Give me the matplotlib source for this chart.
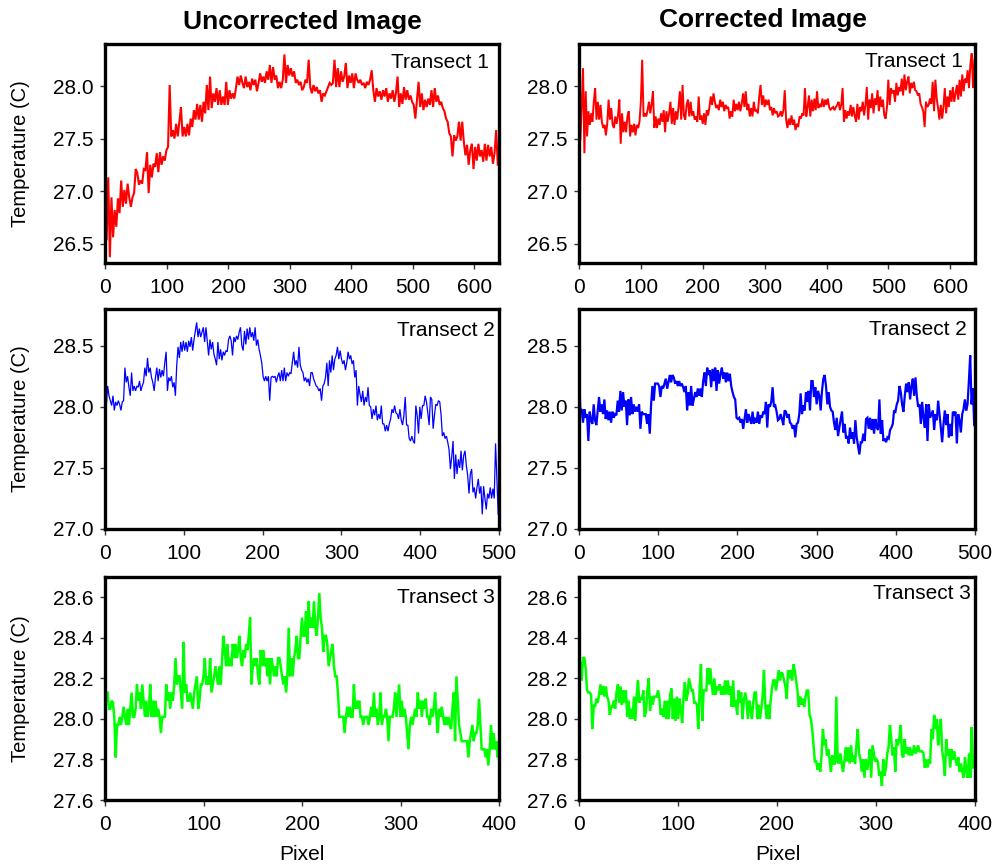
import numpy as np
import matplotlib
matplotlib.use("Agg")
import matplotlib.pyplot as plt

plt.rcParams['font.family'] = ['Liberation Sans', 'DejaVu Sans']

# ---------------- temperature transects (deg C) ----------------
t1_raw = [
    26.74, 26.53, 27.13, 26.37, 26.94, 26.56, 26.82, 26.66, 26.93, 26.79, 27.10, 26.85, 27.01, 26.88,
    27.07, 26.94, 26.85, 26.94, 26.98, 27.21, 27.17, 27.06, 27.10, 27.07, 27.21, 27.20, 27.37, 26.98,
    27.25, 27.13, 27.26, 27.23, 27.36, 27.18, 27.37, 27.25, 27.33, 27.29, 27.39, 27.42, 28.01, 27.52,
    27.58, 27.50, 27.64, 27.52, 27.66, 27.80, 27.52, 27.61, 27.52, 27.64, 27.53, 27.69, 27.61, 27.77,
    27.68, 27.83, 27.68, 27.82, 27.66, 27.85, 27.74, 28.01, 27.77, 28.09, 27.79, 27.93, 27.85, 27.98,
    27.82, 27.96, 27.82, 27.90, 27.82, 28.04, 27.82, 27.96, 27.88, 27.93, 27.88, 27.98, 28.09, 28.01,
    28.10, 28.03, 27.98, 28.09, 27.99, 28.04, 27.96, 28.07, 28.01, 28.06, 27.95, 28.03, 28.12, 28.04,
    28.09, 28.03, 28.14, 28.06, 28.20, 28.03, 28.18, 28.06, 28.10, 27.98, 28.04, 27.98, 28.06, 28.30,
    28.03, 28.20, 28.10, 28.17, 28.09, 28.14, 28.03, 28.06, 28.01, 28.04, 27.96, 27.99,
    28.06, 28.03, 28.25, 27.99, 27.93, 28.01, 27.95, 27.99, 27.93, 27.96, 27.85, 27.93, 27.91, 27.95,
    27.99, 28.03, 28.01, 28.03, 28.25, 27.99, 28.17, 27.99, 28.14, 28.04, 28.09, 28.22, 27.98, 28.10,
    28.03, 28.12, 27.98, 28.12, 28.06, 28.03, 28.06, 28.01, 28.03, 27.98, 28.04, 28.01, 28.06, 28.15,
    27.96, 27.85, 27.98, 27.90, 27.95, 27.87, 27.96, 27.90, 27.98, 27.85, 27.93, 27.88, 27.96, 27.85,
    27.93, 28.09, 27.80, 27.93, 27.83, 27.99, 27.87, 27.96, 27.87, 27.91, 27.85, 27.82, 27.69, 27.87,
    28.04, 27.80, 27.93, 27.77, 27.87, 27.80, 27.88, 27.82, 27.96, 27.80, 27.98, 27.85, 27.91, 27.82,
    27.85, 27.79, 27.76, 27.69, 27.66, 27.55, 27.52, 27.33, 27.53, 27.48, 27.52, 27.66, 27.48, 27.66,
    27.47, 27.34, 27.44, 27.25, 27.39, 27.45, 27.21, 27.42, 27.29, 27.45, 27.33, 27.39, 27.28, 27.45,
    27.29, 27.44, 27.33, 27.42, 27.26, 27.36, 27.58, 27.25,
]

t1_corr = [
    27.77, 27.48, 27.80, 28.17, 27.36, 27.95, 27.52, 27.76, 27.63, 27.74, 27.66, 27.85, 27.98, 27.68,
    27.85, 27.68, 27.82, 27.66, 27.60, 27.63, 27.53, 27.64, 27.87, 27.68, 27.79, 27.63, 27.60, 27.71,
    27.64, 27.72, 27.87, 27.45, 27.74, 27.56, 27.66, 27.56, 27.71, 27.76, 27.52, 27.63, 27.56, 27.64,
    27.53, 27.63, 27.60, 27.66, 27.85, 28.25, 27.71, 27.74, 27.71, 27.77, 27.85, 27.74, 27.83, 27.95,
    27.60, 27.71, 27.60, 27.69, 27.63, 27.74, 27.66, 27.77, 27.56, 27.76, 27.66, 27.74, 27.85, 27.64,
    27.79, 27.63, 27.76, 27.68, 27.80, 27.95, 27.68, 28.01, 27.72, 27.68, 27.82, 27.87, 27.71, 27.85,
    27.72, 27.76, 27.68, 27.71, 27.66, 27.90, 27.68, 27.72, 27.64, 27.74, 27.63, 27.77, 27.72, 27.80,
    27.90, 27.82, 27.93, 27.85, 27.79, 27.82, 27.77, 27.87, 27.80, 27.85, 27.76, 27.82, 27.79, 27.80,
    27.69, 27.76, 27.71, 27.87, 27.76, 27.83, 27.77, 27.85, 27.76, 27.83, 27.93, 27.80, 27.95, 27.77,
    27.83, 27.71, 27.79, 27.71, 27.85, 27.76, 27.77, 27.74, 27.90, 28.01, 27.82, 27.91, 27.80, 27.87,
    27.82, 27.87, 27.77, 27.80, 27.72, 27.79, 27.74, 27.76, 27.71,
    27.72, 27.76, 27.71, 27.77, 27.96, 27.68, 27.60, 27.69, 27.63, 27.72, 27.63, 27.68, 27.58, 27.64,
    27.61, 27.71, 27.69, 27.74, 27.72, 27.98, 27.71, 27.80, 27.91, 27.71, 27.87, 27.76, 27.88, 27.77,
    27.95, 27.79, 27.83, 27.80, 27.88, 27.80, 27.87, 27.82, 27.88, 27.80, 27.77, 27.79, 27.80, 27.77,
    27.80, 27.82, 27.85, 27.77, 27.82, 27.98, 27.66, 27.77, 27.69, 27.76, 27.72, 27.82, 27.71, 27.80,
    27.72, 27.66, 27.83, 27.68, 27.80, 27.76, 27.85, 27.72, 27.82, 27.99, 27.68, 27.87, 27.79, 27.93,
    27.74, 27.88, 27.82, 27.96, 27.76, 27.90, 27.80, 27.87, 27.72, 27.69, 27.80, 28.06, 27.82, 27.98,
    27.93, 27.96, 27.85, 28.03, 27.91, 27.99, 27.95, 28.07, 27.91, 28.11, 27.96, 28.04, 28.09, 27.93,
    28.03, 27.98, 28.04, 27.96, 27.95, 27.91, 27.93, 27.83, 27.80, 27.76, 27.61, 27.85, 27.80, 27.82,
    27.88, 27.83, 28.04, 27.76, 28.06, 27.88, 27.79, 27.68, 27.82, 27.69, 27.80, 27.98, 27.74, 27.90,
    27.80, 27.96, 27.85, 27.99, 27.85, 27.93, 28.01, 27.87, 28.06, 27.90, 28.11, 27.95, 28.07, 28.03,
    28.15, 27.98, 28.20, 28.31, 27.98, 28.25,
]

t2_raw = [
    28.20, 28.01, 28.17, 28.09, 28.05, 28.01, 28.09, 27.97, 28.04, 28.01, 28.05, 28.02, 27.97, 28.04,
    28.05, 28.32, 28.20, 28.25, 28.16, 28.09, 28.28, 28.13, 28.17, 28.13, 28.17, 28.16, 28.21, 28.13,
    28.17, 28.20, 28.32, 28.25, 28.40, 28.28, 28.32, 28.24, 28.20, 28.13, 28.24, 28.32, 28.21, 28.31,
    28.24, 28.30, 28.25, 28.36, 28.45, 28.13, 28.24, 28.21, 28.25, 28.16, 28.20, 28.09, 28.34, 28.49,
    28.40, 28.53, 28.45, 28.54, 28.46, 28.53, 28.45, 28.54, 28.49, 28.57, 28.46, 28.55, 28.62, 28.69,
    28.57, 28.64, 28.57, 28.61, 28.65, 28.53, 28.65, 28.53, 28.42, 28.55, 28.47, 28.53, 28.43, 28.39,
    28.34, 28.53, 28.39, 28.47, 28.38, 28.45, 28.42, 28.46, 28.45, 28.55, 28.58, 28.54, 28.42, 28.57,
    28.53, 28.58, 28.55, 28.61, 28.65, 28.50, 28.46, 28.62, 28.51, 28.64, 28.55, 28.65, 28.57, 28.61,
    28.54, 28.65, 28.50, 28.55, 28.47, 28.42, 28.36, 28.25, 28.21, 28.25, 28.21, 28.25, 28.05, 28.24,
    28.25, 28.24, 28.25, 28.20, 28.25, 28.28, 28.21, 28.30, 28.21, 28.32, 28.21, 28.28, 28.25, 28.28,
    28.27, 28.36, 28.45, 28.34, 28.38, 28.32, 28.49, 28.34, 28.30, 28.28, 28.21,
    28.24, 28.20, 28.23, 28.17, 28.28, 28.28, 28.23, 28.20, 28.17, 28.16, 28.13, 28.15, 28.05, 28.17,
    28.19, 28.24, 28.36, 28.17, 28.38, 28.28, 28.42, 28.30, 28.39, 28.42, 28.49, 28.39, 28.46, 28.39,
    28.35, 28.38, 28.30, 28.36, 28.45, 28.39, 28.42, 28.35, 28.38, 28.24, 28.30, 28.01, 28.17, 28.10,
    28.04, 28.13, 28.01, 28.08, 28.04, 28.16, 28.01, 28.00, 27.90, 27.98, 27.93, 28.01, 27.89, 27.94,
    27.90, 28.01, 27.86, 27.86, 27.80, 27.85, 27.80, 27.86, 27.90, 27.98, 27.95, 28.01, 27.95, 27.94,
    27.90, 27.98, 27.89, 27.85, 27.93, 28.08, 27.85, 27.85, 27.74, 27.72, 27.76, 27.72, 27.70, 28.01,
    27.93, 27.78, 28.00, 27.90, 28.01, 28.01, 28.09, 28.04, 27.95, 27.85, 28.08, 28.06, 27.82, 27.93,
    28.02, 28.01, 28.05, 28.04, 27.93, 27.76, 27.79, 27.74, 27.76, 27.71, 27.65, 27.49, 27.59, 27.72,
    27.41, 27.61, 27.45, 27.57, 27.50, 27.64, 27.48, 27.60, 27.64, 27.52, 27.44, 27.29, 27.45, 27.49,
    27.30, 27.34, 27.25, 27.34, 27.41, 27.29, 27.35, 27.12, 27.35, 27.25, 27.16, 27.29, 27.25, 27.34,
    27.25, 27.33, 27.25, 27.70, 27.41, 27.12,
]

t2_corr = [
    28.30, 27.97, 27.98, 27.87, 27.98, 27.91, 27.94, 27.72, 27.96, 27.89, 27.86, 28.02, 27.89, 27.85,
    27.97, 28.08, 27.96, 28.02, 27.94, 28.06, 27.90, 27.97, 27.89, 27.96, 27.87, 27.96, 27.91, 27.94,
    27.93, 28.05, 27.96, 28.13, 27.97, 28.12, 28.00, 28.05, 27.85, 28.06, 27.93, 28.08, 27.94, 28.02,
    27.96, 28.00, 27.96, 28.02, 27.82, 27.96, 27.94, 27.94, 27.94, 27.86, 27.94, 27.78, 28.02, 28.17,
    28.05, 28.19, 28.19, 28.19, 28.17, 28.08, 28.17, 28.15, 28.19, 28.23, 28.15, 28.20, 28.26, 28.20,
    28.26, 28.24, 28.19, 28.21, 28.17, 28.21, 28.17, 28.19, 28.16, 28.12, 28.17, 27.97, 28.12, 28.01,
    28.17, 28.01, 28.06, 28.12, 28.08, 28.15, 28.09, 28.15, 28.08, 28.21, 28.28, 28.17, 28.32, 28.26,
    28.30, 28.16, 28.31, 28.21, 28.32, 28.13, 28.30, 28.19, 28.27, 28.32, 28.23, 28.28, 28.20, 28.28,
    28.21, 28.27, 28.17, 28.12, 28.08, 28.06, 27.91, 27.90, 27.91, 27.87, 27.90, 27.82, 27.90, 27.98,
    27.87, 27.94, 27.90, 27.86, 27.96, 27.86, 27.91, 27.87, 27.96, 27.86, 27.93, 27.91, 27.96, 27.94,
    28.04, 27.83, 28.02, 28.00, 28.04, 28.16, 28.00, 28.01, 27.96, 27.89,
    27.90, 27.94, 27.90, 27.85, 27.97, 27.96, 27.91, 27.94, 27.87, 27.86, 27.82, 27.85, 27.75, 27.86,
    27.87, 27.94, 28.11, 27.94, 28.01, 27.97, 28.12, 28.04, 28.13, 27.97, 28.21, 28.21, 28.08, 28.16,
    28.02, 28.13, 28.09, 27.97, 28.13, 28.23, 28.26, 28.17, 28.02, 28.12, 28.00, 27.97, 27.96, 27.87,
    27.81, 27.91, 27.76, 27.83, 27.90, 27.96, 27.79, 27.86, 27.74, 27.76, 27.70, 27.83, 27.74, 27.79,
    27.70, 27.89, 27.75, 27.68, 27.61, 27.71, 27.71, 27.78, 27.72, 27.90, 27.91, 27.82, 27.91, 27.81,
    27.90, 27.78, 27.90, 27.83, 27.81, 28.06, 27.78, 27.89, 27.72, 27.74, 27.71, 27.75, 27.74, 27.81,
    27.83, 27.86, 27.97, 27.96, 28.02, 28.05, 28.17, 28.12, 28.02, 27.96, 28.09, 28.19, 28.12, 28.20,
    28.06, 28.17, 28.23, 28.09, 28.24, 28.09, 28.00, 28.02, 27.86, 28.04, 27.91, 27.83, 28.02, 27.72,
    28.02, 27.91, 27.94, 27.97, 27.81, 27.94, 27.89, 28.05, 27.94, 27.83, 27.71, 27.86, 27.97, 27.85,
    27.94, 27.75, 27.86, 27.76, 27.96, 27.94, 27.96, 27.70, 27.94, 27.89, 27.79, 27.94, 27.98, 28.06,
    27.97, 28.02, 28.21, 28.42, 28.02, 28.15, 27.85,
]

t3_raw = [
    28.01, 28.13, 28.13, 28.05, 28.05, 28.09, 28.08, 28.01, 27.81, 27.97, 27.97, 28.01, 27.97, 28.01,
    28.06, 28.01, 27.97, 28.05, 27.97, 28.05, 28.13, 28.01, 28.01, 28.05, 28.17, 28.09, 28.13, 28.05,
    28.17, 28.09, 28.01, 28.09, 28.01, 28.05, 28.17, 28.01, 28.09, 28.01, 28.09, 28.01, 28.05, 28.01,
    27.93, 28.01, 28.01, 28.01, 28.17, 28.09, 28.13, 28.05, 28.13, 28.09, 28.17, 28.30, 28.17, 28.21,
    28.21, 28.13, 28.05, 28.38, 28.13, 28.17, 28.09, 28.09, 28.13, 28.09, 28.05, 28.13, 28.17, 28.21,
    28.05, 28.09, 28.17, 28.17, 28.21, 28.30, 28.17, 28.21, 28.17, 28.30, 28.13, 28.17, 28.21, 28.26,
    28.21, 28.17, 28.26, 28.17, 28.30, 28.41, 28.34, 28.26, 28.37, 28.26, 28.30, 28.26, 28.37, 28.30,
    28.37, 28.30, 28.34, 28.41, 28.30, 28.26, 28.34, 28.30, 28.37, 28.34, 28.41, 28.50, 28.17, 28.26,
    28.30, 28.26, 28.30, 28.21, 28.17, 28.34, 28.26, 28.34, 28.26, 28.30, 28.21, 28.30, 28.17, 28.30,
    28.26, 28.21, 28.26, 28.21, 28.30, 28.30, 28.26, 28.21, 28.17, 28.21, 28.13, 28.21, 28.45, 28.21,
    28.30, 28.21, 28.30, 28.34, 28.41, 28.30, 28.30, 28.41, 28.50, 28.41,
    28.41, 28.53, 28.37, 28.58, 28.45, 28.50, 28.45, 28.58, 28.45, 28.41, 28.50, 28.62, 28.50, 28.45,
    28.33, 28.41, 28.41, 28.37, 28.26, 28.30, 28.34, 28.37, 28.26, 28.21, 28.21, 28.13, 28.01, 28.01,
    28.01, 28.01, 27.93, 28.01, 28.06, 28.01, 28.06, 28.01, 28.01, 28.17, 28.05, 28.09, 28.05, 28.09,
    28.01, 28.01, 27.97, 28.01, 28.01, 28.01, 27.97, 28.01, 28.06, 28.01, 28.13, 28.01, 28.05, 27.97,
    28.01, 28.13, 27.97, 28.01, 28.01, 28.05, 28.01, 27.89, 28.01, 28.01, 28.01, 28.05, 28.13, 28.01,
    28.09, 28.17, 28.01, 28.09, 28.01, 28.05, 28.01, 27.93, 27.85, 27.97, 28.01, 27.97, 28.01, 28.05,
    28.01, 28.13, 28.05, 28.09, 28.01, 28.09, 28.05, 28.10, 28.01, 28.01, 27.97, 28.05, 28.01, 28.05,
    28.13, 28.01, 27.93, 28.05, 28.01, 28.06, 28.01, 27.97, 28.01, 27.97, 28.01, 27.97, 27.95, 28.05,
    28.13, 27.89, 28.21, 28.09, 27.97, 27.93, 27.89, 27.89, 27.89, 27.89, 27.89, 27.81, 27.89, 27.93,
    27.97, 27.89, 27.93, 27.93, 27.97, 28.10, 27.97, 27.85, 27.85, 27.85, 27.81, 27.85, 27.77, 27.85,
    27.97, 27.85, 27.93, 27.85, 27.89, 27.81, 27.85,
]

t3_corr = [
    28.20, 28.28, 28.19, 28.30, 28.30, 28.25, 28.14, 28.13, 28.13, 28.12, 27.95, 28.07, 28.06, 28.10,
    28.08, 28.12, 28.17, 28.12, 28.16, 28.11, 28.16, 28.11, 28.09, 28.02, 28.06, 28.06, 28.09, 28.05,
    28.13, 28.17, 28.08, 28.16, 28.07, 28.14, 28.08, 28.14, 28.01, 28.09, 28.00, 28.05, 28.00, 28.11,
    27.99, 28.11, 28.19, 28.08, 28.10, 28.10, 28.14, 28.01, 28.04, 28.14, 28.20, 28.04, 28.11, 28.07,
    28.11, 28.11, 28.11, 28.14, 28.10, 28.02, 28.05, 28.01, 28.09, 28.00, 28.09, 28.00, 28.12, 28.15,
    28.00, 28.10, 27.99, 28.11, 28.00, 28.10, 28.05, 27.98, 28.11, 28.18, 28.09, 28.12, 28.20, 28.17,
    28.14, 28.14, 28.08, 28.08, 28.07, 27.95, 28.14, 28.27, 27.99, 28.14, 28.14, 28.14, 28.25, 28.17,
    28.25, 28.17, 28.12, 28.20, 28.12, 28.16, 28.15, 28.17, 28.12, 28.16, 28.12, 28.19, 28.12, 28.19,
    28.12, 28.16, 28.06, 28.19, 28.06, 28.09, 28.02, 28.14, 28.08, 28.13, 28.00, 28.09, 28.13, 28.09,
    28.00, 28.09, 28.05, 28.00, 28.08, 28.13, 28.13, 28.00, 28.07, 28.00, 28.05, 28.11, 28.24, 28.07,
    28.00, 28.07, 28.00, 28.09, 28.15, 28.19, 28.19, 28.14,
    28.19, 28.24, 28.19, 28.23, 28.22, 28.19, 28.16, 28.10, 28.24, 28.20, 28.24, 28.19, 28.27, 28.24,
    28.19, 28.14, 28.06, 28.11, 28.07, 28.10, 28.06, 28.11, 28.14, 28.14, 28.02, 28.00, 27.95, 27.87,
    27.79, 27.79, 27.75, 27.78, 27.74, 27.82, 27.95, 27.87, 27.90, 27.82, 27.85, 27.80, 27.74, 27.82,
    27.78, 27.78, 28.11, 27.79, 27.78, 27.83, 27.78, 27.74, 27.79, 27.86, 27.79, 27.86, 27.78, 27.87,
    27.79, 27.82, 27.78, 27.87, 27.95, 27.83, 27.80, 27.74, 27.80, 27.71, 27.80, 27.75, 27.79, 27.85,
    27.71, 27.87, 27.83, 27.79, 27.80, 27.79, 27.72, 27.74, 27.67, 27.80, 27.72, 27.76, 27.83, 27.86,
    27.97, 27.90, 27.82, 27.86, 27.74, 27.90, 27.87, 27.90, 27.97, 27.82, 27.81, 27.90, 27.83, 27.86,
    27.82, 27.86, 27.82, 27.83, 27.87, 27.83, 27.84, 27.87, 27.84, 27.84, 27.84, 27.83, 27.76, 27.80,
    27.76, 27.80, 27.78, 27.95, 27.90, 28.02, 27.95, 28.00, 27.87, 27.95, 28.00, 27.84, 27.80, 27.72,
    27.90, 27.82, 27.85, 27.76, 27.85, 27.80, 27.84, 27.80, 27.77, 27.81, 27.74, 27.78, 27.74, 27.71,
    27.81, 27.74, 27.71, 27.83, 27.71, 27.96, 27.76,
]

col_titles = ["Uncorrected Image", "Corrected Image"]
row_labels = ["Transect 1", "Transect 2", "Transect 3"]
x_ends = [[638, 639], [499, 499], [400, 398]]
x_limits = [640, 500, 400]
x_ticks = [np.arange(0, 601, 100), np.arange(0, 501, 100), np.arange(0, 401, 100)]
y_limits = [(26.315, 28.40), (27.0, 28.8), (27.6, 28.7)]
y_ticks = [np.arange(26.5, 28.01, 0.5), np.arange(27.0, 28.51, 0.5), np.arange(27.6, 28.61, 0.2)]
series = [[t1_raw, t1_corr], [t2_raw, t2_corr], [t3_raw, t3_corr]]
colors = ["#ff0000", "#0000ff", "#00ff00"]
widths = [[1.5, 1.4], [0.9, 1.6], [1.8, 1.8]]

# label anchor (axes fraction) for the "Transect" tag in each panel
tag_pos = [[(0.975, 0.96), (0.97, 0.965)],
           [(0.99, 0.945), (0.98, 0.95)],
           [(0.99, 0.95), (0.99, 0.97)]]

W, H = 995, 867
fig = plt.figure(figsize=(W / 100, H / 100), dpi=100)

col_left = [105, 579]
col_right = [499, 975]
row_top = [44, 309, 577]
row_bot = [263, 529, 800]

for r in range(3):
    for c in range(2):
        rect = [col_left[c] / W, 1 - row_bot[r] / H,
                (col_right[c] - col_left[c]) / W, (row_bot[r] - row_top[r]) / H]
        ax = fig.add_axes(rect)
        y = np.asarray(series[r][c])
        x = np.linspace(0, x_ends[r][c], len(y))
        ax.plot(x, y, color=colors[r], lw=widths[r][c], solid_joinstyle='miter')
        ax.set_xlim(0, x_limits[r])
        ax.set_ylim(*y_limits[r])
        ax.set_xticks(x_ticks[r])
        ax.set_yticks(y_ticks[r])
        ax.set_yticklabels([f"{v:.1f}" for v in y_ticks[r]])
        for s in ax.spines.values():
            s.set_linewidth(2.4)
        ax.tick_params(axis='both', direction='out', width=1.0,
                       labelsize=15, color='#333333')
        ax.tick_params(axis='x', length=4.5, pad=6)
        ax.tick_params(axis='y', length=3.6, pad=4.5)
        tx, ty = tag_pos[r][c]
        ax.text(tx, ty, row_labels[r], transform=ax.transAxes,
                ha='right', va='top', fontsize=15)
        if c == 0:
            ax.set_ylabel("Temperature (C)", fontsize=14.5)
            ax.yaxis.set_label_coords(-0.19, 0.5)

fig.text(302 / W, 1 - 22 / H, col_titles[0], ha='center', va='center',
         fontsize=19, fontweight='bold')
fig.text(763 / W, 1 - 20 / H, col_titles[1], ha='center', va='center',
         fontsize=19, fontweight='bold')
fig.text(302 / W, 1 - 855 / H, "Pixel", ha='center', va='center', fontsize=15)
fig.text(778 / W, 1 - 855 / H, "Pixel", ha='center', va='center', fontsize=15)

fig.savefig("out.png", dpi=100, facecolor='white')
